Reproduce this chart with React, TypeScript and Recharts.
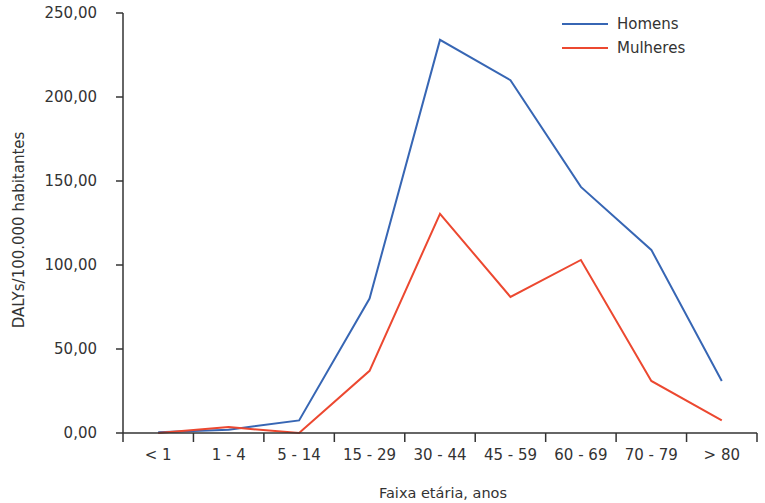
import React from "react";
import { LineChart, Line, XAxis, YAxis, Legend } from "recharts";

const categories = ["< 1", "1 - 4", "5 - 14", "15 - 29", "30 - 44", "45 - 59", "60 - 69", "70 - 79", "> 80"];
const homens = [0.5, 2, 7.5, 80, 234, 210, 146.5, 109, 31];
const mulheres = [0, 3.5, 0, 37, 130.5, 81, 103, 31, 7.5];
const yTicks = [0, 50, 100, 150, 200, 250];

const BLUE = "#3766b4";
const RED = "#ec4830";
const INK = "#333333";
const FONT = "'DejaVu Sans', sans-serif";

const rows = categories.map((c, i) => ({ idx: i, cat: c, homens: homens[i], mulheres: mulheres[i] }));

// ticks at the band edges (x.5) get a tick mark, ticks at integers get the category label
const xTicks: number[] = [];
for (let i = -0.5; i <= categories.length - 0.5; i += 0.5) xTicks.push(i);

function XTick({ x, y, payload }: any) {
  const v = payload.value;
  if (Number.isInteger(v)) {
    return (
      <text x={x} y={y + 22} textAnchor="middle" dominantBaseline="central" fill={INK} fontSize={15} fontFamily={FONT}>
        {categories[v]}
      </text>
    );
  }
  return <line x1={x} y1={y} x2={x} y2={y + 9} stroke={INK} strokeWidth={1.5} />;
}

const series = [
  { key: "homens", name: "Homens", color: BLUE },
  { key: "mulheres", name: "Mulheres", color: RED },
];

function LegendBox() {
  return (
    <div style={{ fontFamily: FONT, fontSize: 15, color: INK }}>
      {series.map((s) => (
        <div key={s.key} style={{ display: "flex", alignItems: "center", height: 24 }}>
          <svg width={46} height={4}>
            <line x1={0} y1={2} x2={46} y2={2} stroke={s.color} strokeWidth={2} />
          </svg>
          <span style={{ marginLeft: 9 }}>{s.name}</span>
        </div>
      ))}
    </div>
  );
}

export default function App() {
  return (
    <div style={{ position: "fixed", left: 0, top: 0, width: 765, height: 503, background: "#fff" }}>
      <LineChart width={765} height={503} data={rows} margin={{ top: 13, right: 8, bottom: 0, left: 0 }}>
        <XAxis
          dataKey="idx"
          type="number"
          domain={[-0.5, categories.length - 0.5]}
          ticks={xTicks}
          interval={0}
          tick={<XTick />}
          tickLine={false}
          tickSize={0}
          tickMargin={0}
          height={70}
          axisLine={{ stroke: INK, strokeWidth: 1.5 }}
          label={{
            content: ({ viewBox }: any) => (
              <text
                x={viewBox.x + viewBox.width / 2 + 3}
                y={viewBox.y + 60}
                textAnchor="middle"
                dominantBaseline="central"
                fill={INK}
                fontSize={14.5}
                fontFamily={FONT}
              >
                Faixa etária, anos
              </text>
            ),
          }}
        />
        <YAxis
          domain={[0, 250]}
          ticks={yTicks}
          width={123}
          tickSize={7}
          tickMargin={19}
          tickFormatter={(v: number) => v.toFixed(2).replace(".", ",")}
          tick={{ fill: INK, fontSize: 15, fontFamily: FONT }}
          tickLine={{ stroke: INK, strokeWidth: 1.5 }}
          axisLine={{ stroke: INK, strokeWidth: 1.5 }}
          label={{
            content: ({ viewBox }: any) => {
              const cx = 19;
              const cy = viewBox.y + viewBox.height / 2 + 7;
              return (
                <text
                  x={cx}
                  y={cy}
                  transform={`rotate(-90 ${cx} ${cy})`}
                  textAnchor="middle"
                  dominantBaseline="central"
                  fill={INK}
                  fontSize={15}
                  fontFamily={FONT}
                >
                  DALYs/100.000 habitantes
                </text>
              );
            },
          }}
        />
        <Legend
          layout="horizontal"
          verticalAlign="middle"
          align="center"
          content={() => <LegendBox />}
          wrapperStyle={{ position: "absolute", top: 12, left: 562, width: 160 }}
        />
        {series.map((s) => (
          <Line
            key={s.key}
            dataKey={s.key}
            name={s.name}
            stroke={s.color}
            strokeWidth={2}
            dot={false}
            activeDot={false}
            type="linear"
            isAnimationActive={false}
          />
        ))}
      </LineChart>
    </div>
  );
}
